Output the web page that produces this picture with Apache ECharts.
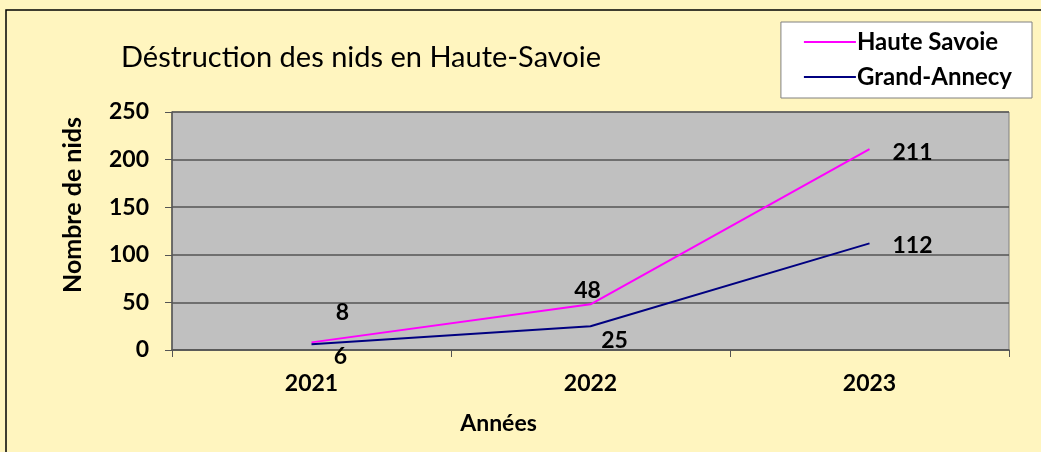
<!DOCTYPE html>
<html>
<head>
<meta charset="utf-8">
<script src="https://cdn.jsdelivr.net/npm/echarts@6/dist/echarts.min.js"></script>
<style>
  html, body { margin: 0; padding: 0; background: #FFF5BF; }
  #chart { width: 1041px; height: 452px; }
</style>
</head>
<body>
<div id="chart"></div>
<script>
// données
const years = ['2021', '2022', '2023']
const hauteSavoie = [8, 48, 211]
const grandAnnecy = [6, 25, 112]
const yTicks = [0, 50, 100, 150, 200, 250]

const chart = echarts.init(document.getElementById('chart'))
const font = 'Lato, "DejaVu Sans", sans-serif'

// décalage des étiquettes (comme dans Excel)
const hsOffsets = [[31, -30], [-3, -14], [43, 3]]
const gaOffsets = [[29, 12], [24, 14], [43, 2]]

function buildData(values, offsets) {
  return values.map((v, i) => ({
    value: v,
    label: { offset: offsets[i] }
  }))
}

const labelStyle = {
  show: true,
  position: 'inside',
  color: '#000',
  fontFamily: font,
  fontWeight: 'bold',
  fontSize: 23
}

chart.setOption({
  backgroundColor: '#FFF5BF',
  animation: false,
  title: {
    text: 'Déstruction des nids en Haute-Savoie',
    left: 116,
    top: 38,
    textStyle: {
      fontFamily: font,
      fontWeight: 'normal',
      fontSize: 29,
      color: '#000'
    }
  },
  legend: {
    right: 9,
    top: 22,
    orient: 'vertical',
    itemWidth: 52,
    itemHeight: 2,
    itemGap: 11,
    padding: [8, 20, 9, 23],
    backgroundColor: '#fff',
    borderColor: '#808080',
    borderWidth: 1,
    borderRadius: 0,
    icon: 'rect',
    textStyle: {
      fontFamily: font,
      fontWeight: 'bold',
      fontSize: 24,
      color: '#000',
      padding: [0, 0, 0, -4]
    },
    data: ['Haute Savoie', 'Grand-Annecy']
  },
  grid: {
    left: 172,
    top: 112,
    width: 837,
    height: 238,
    show: true,
    backgroundColor: '#C0C0C0',
    borderColor: '#808080',
    borderWidth: 1
  },
  graphic: [{
    type: 'rect',
    shape: { x: 6, y: 10, width: 1100, height: 500 },
    style: { fill: 'none', stroke: '#000', lineWidth: 1.5 },
    silent: true
  }],
  xAxis: {
    type: 'category',
    data: years,
    boundaryGap: true,
    name: 'Années',
    nameLocation: 'middle',
    nameGap: 62,
    nameTextStyle: {
      fontFamily: font,
      fontWeight: 'bold',
      fontSize: 23,
      color: '#000',
      padding: [0, 184, 0, 0]
    },
    axisLine: { lineStyle: { color: '#555', width: 1.5 } },
    axisTick: { show: true, length: 7, lineStyle: { color: '#555' } },
    axisLabel: {
      margin: 22,
      fontFamily: font,
      fontWeight: 'bold',
      fontSize: 23,
      color: '#000'
    },
    splitLine: { show: false }
  },
  yAxis: {
    type: 'value',
    min: 0,
    max: 250,
    interval: 50,
    name: 'Nombre de nids',
    nameLocation: 'middle',
    nameGap: 87,
    nameTextStyle: {
      fontFamily: font,
      fontWeight: 'bold',
      fontSize: 25,
      color: '#000',
      padding: [0, 0, 0, 52]
    },
    axisLine: { show: true, lineStyle: { color: '#555', width: 1.5 } },
    axisTick: { show: true, length: 7, lineStyle: { color: '#555' } },
    axisLabel: {
      margin: 23,
      fontFamily: font,
      fontWeight: 'bold',
      fontSize: 23,
      color: '#000',
      formatter: v => yTicks.includes(v) ? String(v) : ''
    },
    splitLine: { show: true, lineStyle: { color: '#555', width: 1.5 } }
  },
  series: [{
    name: 'Haute Savoie',
    type: 'line',
    showSymbol: true,
    symbol: 'circle',
    symbolSize: 0.1,
    color: '#FF00FF',
    lineStyle: { width: 2, color: '#FF00FF' },
    label: labelStyle,
    data: buildData(hauteSavoie, hsOffsets),
    z: 3
  }, {
    name: 'Grand-Annecy',
    type: 'line',
    showSymbol: true,
    symbol: 'circle',
    symbolSize: 0.1,
    color: '#000080',
    lineStyle: { width: 2, color: '#000080' },
    label: labelStyle,
    data: buildData(grandAnnecy, gaOffsets),
    z: 3
  }]
})
</script>
</body>
</html>
